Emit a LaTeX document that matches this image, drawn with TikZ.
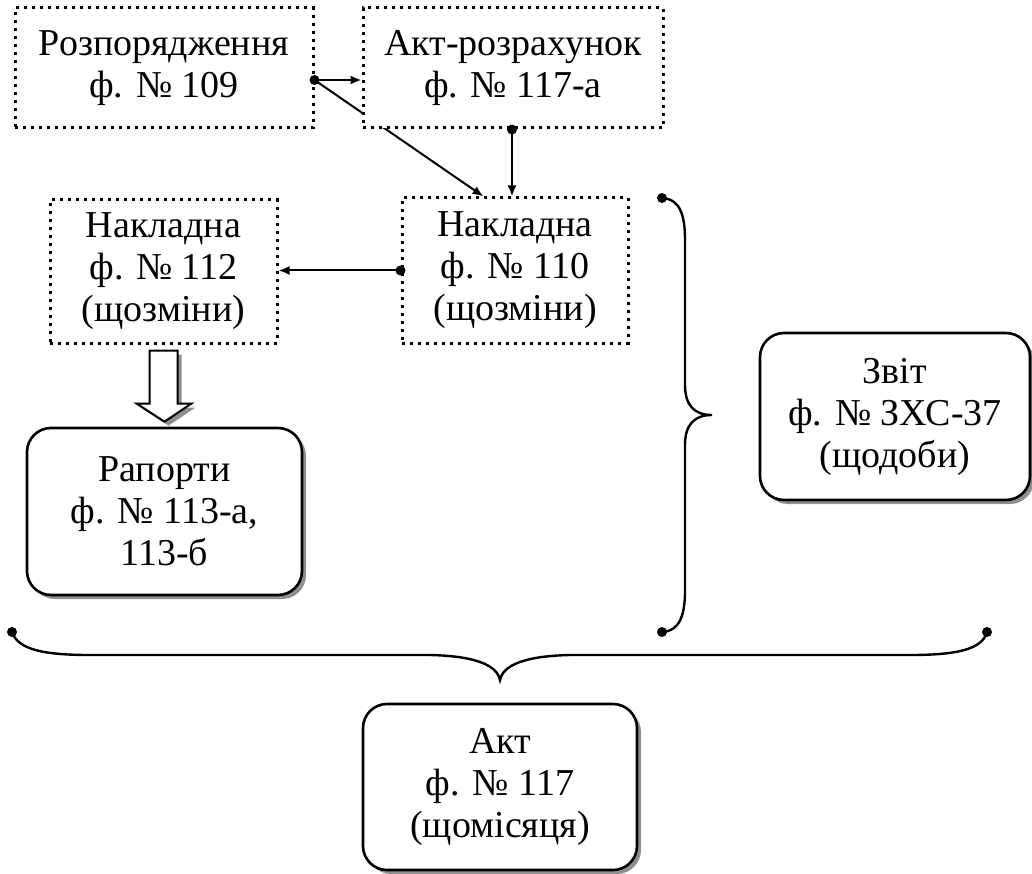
\documentclass[tikz,border=0pt]{standalone}
\usepackage{fontspec}
\setmainfont{Liberation Serif}
\usetikzlibrary{shadows,calc,arrows.meta}
\begin{document}
\begin{tikzpicture}[x=1pt,y=-1pt,
  txt/.style={font=\fontsize{38}{42}\selectfont, align=center, inner sep=0pt},
  dotbox/.style={txt, draw, line width=3pt, dash pattern=on 3pt off 5pt, fill=white},
  shadowed/.style={drop shadow={shadow xshift=4pt, shadow yshift=-4pt, fill=black!55, opacity=0.8}},
  roundbox/.style={txt, draw, line width=2.6pt, rounded corners=24pt, fill=white, shadowed},
  conn/.style={line width=2pt, -{Latex[length=11pt,width=9pt]}},
  brace/.style={line width=2.4pt},
  dotr/.style={fill=black}
]
\useasboundingbox (0,0) rectangle (1032,874);

% dotted boxes
\node[dotbox, minimum width=298pt, minimum height=120pt] (r109) at (164,68) {Розпорядження\\ф. № 109};
\node[dotbox, minimum width=226pt, minimum height=145pt] (n110) at (515,270.5) {Накладна\\ф. № 110\\(щозміни)};
\node[dotbox, minimum width=227pt, minimum height=143pt] (n112) at (163.5,271.5) {Накладна\\ф. № 112\\(щозміни)};

% connector points
\coordinate (d1) at ($(r109.east)+(0,12)$);
\coordinate (d1end) at ($(n110.north west)+(83,0)$);

% diagonal line drawn before the box that hides part of it
\draw[conn] (d1) -- (d1end);

\node[dotbox, minimum width=300pt, minimum height=120pt] (a117a) at (513,68) {Акт-розрахунок\\ф. № 117-а};

\coordinate (d2) at ($(a117a.south)+(-1,0)$);
\coordinate (d3) at (n110.west);

\draw[conn] (d1) -- (a117a.west |- d1);
\draw[conn] (d2) -- (n110.north -| d2);
\draw[conn] (d3) -- (n112.east |- d3);

\fill[dotr] (d1) circle (5pt);
\fill[dotr] (d2) circle (5pt);
\fill[dotr] (d3) circle (5pt);

% rounded boxes
\node[roundbox, minimum width=275pt, minimum height=167pt] (rap) at (164.5,511.5) {Рапорти\\ф. № 113-а,\\113-б};
\node[roundbox, minimum width=270pt, minimum height=167pt] (zvit) at (895,416.5) {Звіт\\ф. № ЗХС-37\\(щодоби)};
\node[roundbox, minimum width=274pt, minimum height=166pt] (akt) at (500,787) {Акт\\ф. № 117\\(щомісяця)};

% hollow arrow from n112 to rap
\coordinate (ha) at ($(n112.south)+(0,6)$);
\coordinate (ht) at ($(rap.north)+(0,-5)$);
\draw[line width=2pt, fill=white, shadowed]
  ($(ha)+(-14,0)$) -- ($(ha)+(14,0)$) -- ($(ha)+(14,53)$) -- ($(ha)+(28,53)$)
  -- (ht) -- ($(ha)+(-27,53)$) -- ($(ha)+(-14,53)$) -- cycle;

% right vertical brace
\coordinate (b1) at (662,198);
\coordinate (b2) at (662,632);
\coordinate (bt) at (712,415);
\draw[brace] (b1) .. controls (680,199) and (685,215) .. (685,240) -- (685,385)
  .. controls (685,405) and (694,415) .. (bt)
  .. controls (694,415) and (685,425) .. (685,445) -- (685,590)
  .. controls (685,615) and (680,631) .. (b2);
\fill[dotr] (b1) circle (5pt);
\fill[dotr] (b2) circle (5pt);

% bottom brace
\coordinate (c1) at (12,632);
\coordinate (c2) at (987,632);
\coordinate (ct) at (500,680);
\draw[brace] (c1) .. controls (18,650) and (45,655) .. (90,655) -- (430,655)
  .. controls (475,656) and (497,665) .. (ct)
  .. controls (503,665) and (525,656) .. (570,655) -- (910,655)
  .. controls (955,655) and (982,650) .. (c2);
\fill[dotr] (c1) circle (5pt);
\fill[dotr] (c2) circle (5pt);
\end{tikzpicture}
\end{document}
